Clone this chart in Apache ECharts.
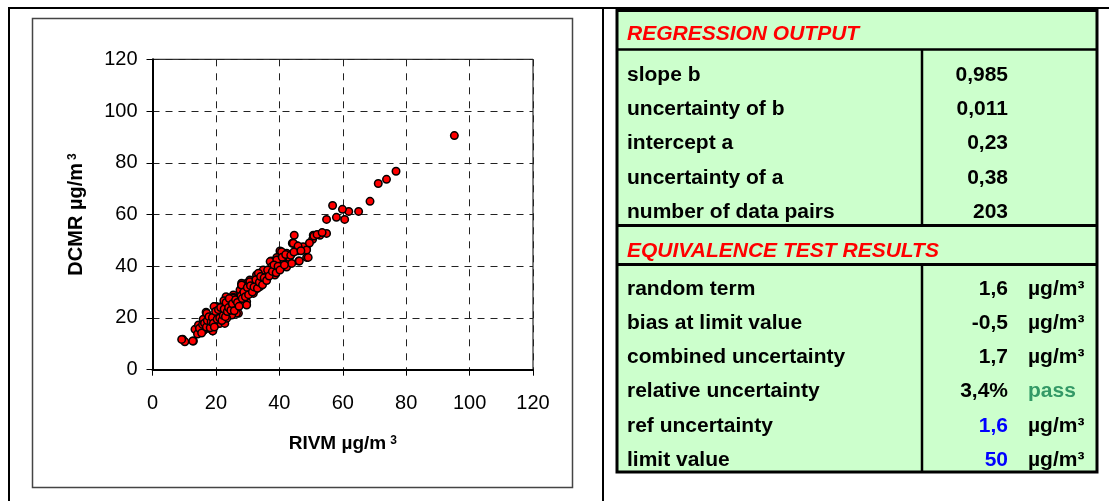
<!DOCTYPE html>
<html>
<head>
<meta charset="utf-8">
<script src="https://cdn.jsdelivr.net/npm/echarts@6/dist/echarts.min.js"></script>
<style>
html, body { margin: 0; padding: 0; background: #fff; }
#chart { width: 1109px; height: 501px; }
</style>
</head>
<body>
<div id="chart"></div>
<script>
// RIVM (x) vs DCMR (y), ug/m3
var rivm = [
  95.2, 76.8, 73.8, 71.2, 68.6, 65.0, 61.9, 59.9, 60.6, 58.0, 56.8, 54.9, 54.9, 52.8, 50.7, 50.5,
  44.7, 44.1, 45.5, 48.6, 47.5, 48.6, 46.1, 45.9, 40.2, 42.3, 39.2, 37.4, 41.3, 43.1, 42.3, 40.7,
  35.5, 37.6, 32.8, 38.6,
  44.4, 45.9, 48.6, 50.9, 51.9, 40.7, 43.1, 41.0, 39.7, 41.2, 39.4, 37.6, 38.1, 43.9, 46.3, 49.1,
  37.1, 39.2, 38.6, 36.0, 34.9, 33.4, 33.9, 31.3, 29.7, 28.1, 28.6, 30.7, 32.3, 33.9, 27.6, 25.5,
  26.5, 24.2, 23.2, 25.0, 22.3, 20.2, 29.7, 28.4, 30.7, 34.9, 37.6,
  9.5, 10.2, 12.9, 13.9, 15.0, 16.0, 16.9, 16.6, 18.1, 19.0, 19.7, 20.2, 20.7, 22.1, 22.5, 23.9,
  24.4, 25.5, 26.5, 27.1, 28.1, 28.6, 29.7,
  9.2, 12.7, 13.4, 15.0, 16.2, 19.0, 14.5, 16.0, 17.1, 18.7, 20.0, 21.3, 19.4, 21.8, 23.4, 24.4,
  25.5, 26.5, 25.0, 27.6, 28.6, 29.7, 32.3, 34.4, 30.7, 28.1, 22.8, 21.0, 17.6, 16.6, 23.4, 26.0,
  29.7, 31.8, 31.3,
  14.2, 14.8, 15.5, 15.8, 16.4, 17.0, 17.3, 17.8, 18.2, 18.5, 18.9, 19.2, 19.5, 19.9, 20.4, 20.8,
  21.2, 21.5, 21.9, 22.3, 22.6, 23.0, 23.2, 23.6, 24.0, 24.2, 24.7, 25.2, 25.8, 26.2, 26.8, 27.3,
  27.9, 28.3, 28.8, 29.3, 29.9, 30.3, 30.9, 31.5, 32.0, 32.6, 33.1, 33.7, 34.1, 34.7, 35.2, 36.0,
  36.3, 36.8, 37.8, 38.3, 39.0, 39.6, 40.2, 40.9, 41.6, 42.0, 43.6, 44.6, 46.8, 49.5, 53.5
];
var dcmr = [
  90.5, 76.7, 73.6, 72.0, 65.1, 61.2, 61.2, 62.0, 58.1, 58.9, 63.5, 58.1, 52.7, 52.0, 52.0, 50.4,
  52.0, 48.9, 47.9, 46.7, 47.5, 43.4, 42.0, 46.0, 45.9, 45.0, 43.4, 42.0, 42.8, 41.8, 39.7, 39.7,
  38.2, 37.3, 36.6, 36.6,
  48.9, 47.8, 46.3, 51.7, 52.3, 45.6, 43.4, 43.0, 42.4, 41.1, 40.5, 41.7, 39.2, 41.1, 42.0, 43.4,
  41.8, 42.4, 39.2, 37.3, 38.5, 37.3, 35.3, 33.4, 33.4, 33.4, 31.5, 29.5, 30.8, 32.1, 30.8, 28.9,
  27.6, 26.9, 28.2, 25.7, 25.0, 24.4, 26.3, 25.7, 34.7, 34.0, 39.8,
  11.8, 10.8, 11.1, 15.3, 16.6, 15.1, 22.2, 19.2, 17.9, 15.0, 24.4, 21.1, 17.9, 22.4, 26.7, 25.7,
  21.1, 28.0, 24.4, 21.8, 32.7, 26.9, 29.5,
  11.7, 11.1, 15.6, 15.1, 15.3, 15.0, 17.3, 19.5, 21.8, 19.2, 21.4, 17.9, 24.4, 22.4, 24.4, 26.9,
  27.6, 21.8, 21.1, 25.7, 29.5, 30.8, 33.4, 33.4, 34.0, 32.7, 17.9, 20.5, 16.0, 17.9, 19.9, 25.0,
  25.0, 29.5, 31.5,
  13.8, 16.0, 14.2, 17.5, 18.0, 16.5, 19.0, 20.5, 16.2, 18.5, 20.2, 18.0, 16.5, 22.5, 19.5, 23.2,
  20.0, 24.0, 19.0, 21.0, 23.5, 20.5, 26.0, 22.5, 24.0, 27.5, 23.0, 25.5, 22.8, 27.0, 26.0, 24.5,
  28.5, 27.5, 30.0, 28.2, 31.8, 29.0, 32.5, 30.0, 32.0, 34.8, 31.5, 33.8, 36.0, 32.8, 35.5, 34.5,
  38.5, 36.2, 38.0, 40.5, 37.5, 40.0, 38.5, 43.5, 40.5, 44.5, 44.2, 45.5, 46.0, 49.0, 53.0
];

var regHeader = 'REGRESSION OUTPUT';
var regLabels = ['slope b', 'uncertainty of b', 'intercept a', 'uncertainty of a', 'number of data pairs'];
var regValues = ['0,985', '0,011', '0,23', '0,38', '203'];

var eqHeader = 'EQUIVALENCE TEST RESULTS';
var eqLabels = ['random term', 'bias at limit value', 'combined uncertainty', 'relative uncertainty', 'ref uncertainty', 'limit value'];
var eqValues = ['1,6', '-0,5', '1,7', '3,4%', '1,6', '50'];
var eqUnits = ['µg/m³', 'µg/m³', 'µg/m³', 'pass', 'µg/m³', 'µg/m³'];

var FONT = '"Liberation Sans", Arial, sans-serif';

var points = [];
for (var i = 0; i < rivm.length; i++) {
  points.push([rivm[i], dcmr[i]]);
}

function line(x1, y1, x2, y2, w, c) {
  return { type: 'line', silent: true, shape: { x1: x1, y1: y1, x2: x2, y2: y2 },
    style: { stroke: c || '#000', lineWidth: w } };
}
function txt(x, y, s, opt) {
  opt = opt || {};
  return {
    type: 'text', silent: true, x: x, y: y, scaleX: 1.05,
    style: {
      text: s, fill: opt.fill || '#000',
      fontSize: opt.size || 20, fontWeight: 'bold', fontStyle: opt.italic ? 'italic' : 'normal',
      fontFamily: FONT,
      align: opt.align || 'left', textAlign: opt.align || 'left',
      verticalAlign: 'middle', textVerticalAlign: 'middle'
    }
  };
}

var g = [];
// outer frame
g.push(line(8, 8, 1109, 8, 2));
g.push(line(9, 7, 9, 501, 2));
g.push(line(603, 7, 603, 501, 2));
// chart box
g.push({ type: 'rect', silent: true, shape: { x: 32.5, y: 18.5, width: 540, height: 469 },
  style: { fill: 'none', stroke: '#444', lineWidth: 1.5 } });

// table
var tL = 617, tR = 1097, tT = 10.5, tB = 472, colX = 922;
g.push({ type: 'rect', silent: true, shape: { x: tL, y: tT, width: tR - tL, height: tB - tT },
  style: { fill: '#ccffcc', stroke: '#000', lineWidth: 3 } });
g.push(line(tL, 49.5, tR, 49.5, 2.5));
g.push(line(tL, 225.5, tR, 225.5, 3));
g.push(line(tL, 264.5, tR, 264.5, 3));
g.push(line(colX, 49.5, colX, 225.5, 2.5));
g.push(line(colX, 264.5, colX, tB, 2.5));

g.push(txt(627, 34.5, regHeader, { italic: true, fill: '#ff0000' }));
regLabels.forEach(function (lab, i) {
  var y = 75 + i * 34.4;
  g.push(txt(627, y, lab));
  g.push(txt(1008, y, regValues[i], { align: 'right' }));
});

g.push(txt(627, 251, eqHeader, { italic: true, fill: '#ff0000' }));
eqLabels.forEach(function (lab, i) {
  var y = 289.3 + i * 34.2;
  var isInput = i >= 4;
  g.push(txt(627, y, lab));
  g.push(txt(1008, y, eqValues[i], { align: 'right', fill: isInput ? '#0000ff' : '#000' }));
  g.push(txt(1028, y, eqUnits[i], { fill: eqUnits[i] === 'pass' ? '#339966' : '#000' }));
});

var chart = echarts.init(document.getElementById('chart'));
chart.setOption({
  animation: false,
  backgroundColor: '#fff',
  textStyle: { fontFamily: FONT },
  grid: {
    left: 152.5, top: 59.3, width: 380.5, height: 310.4,
    show: true, borderColor: '#000', borderWidth: 1, backgroundColor: 'transparent'
  },
  xAxis: {
    type: 'value', min: 0, max: 120, interval: 20,
    axisLine: { show: true, onZero: false, lineStyle: { color: '#000', width: 2 } },
    axisTick: { show: true, inside: false, length: 6, lineStyle: { color: '#000', width: 1 } },
    splitLine: { show: true, lineStyle: { color: '#222', width: 1, type: [7, 7] } },
    axisLabel: { color: '#000', fontSize: 20, fontFamily: FONT, margin: 24 },
    name: '{t|RIVM µg/m}{s|3}',
    nameLocation: 'middle', nameGap: 65,
    nameTextStyle: {
      rich: {
        t: { fontSize: 19, fontWeight: 'bold', color: '#000', fontFamily: FONT },
        s: { fontSize: 12, fontWeight: 'bold', color: '#000', fontFamily: FONT, verticalAlign: 'top', padding: [0, 0, 0, 4] }
      }
    }
  },
  yAxis: {
    type: 'value', min: 0, max: 120, interval: 20,
    axisLine: { show: true, onZero: false, lineStyle: { color: '#000', width: 2 } },
    axisTick: { show: true, inside: false, length: 6, lineStyle: { color: '#000', width: 1 } },
    splitLine: { show: true, lineStyle: { color: '#222', width: 1, type: [7, 6] } },
    axisLabel: { color: '#000', fontSize: 20, fontFamily: FONT, margin: 15 },
    name: '{t|DCMR µg/m}{s|3}',
    nameLocation: 'middle', nameGap: 66,
    nameTextStyle: {
      rich: {
        t: { fontSize: 20, fontWeight: 'bold', color: '#000', fontFamily: FONT },
        s: { fontSize: 12, fontWeight: 'bold', color: '#000', fontFamily: FONT, verticalAlign: 'top', padding: [0, 0, 0, 3] }
      }
    }
  },
  series: [{
    type: 'scatter',
    data: points,
    symbol: 'circle',
    symbolSize: 7.5,
    itemStyle: { color: '#ff0000', borderColor: '#000', borderWidth: 1.5, opacity: 1 },
    emphasis: { disabled: true }
  }],
  graphic: { elements: g }
});
window.addEventListener('resize', function () { chart.resize(); });
</script>
</body>
</html>
